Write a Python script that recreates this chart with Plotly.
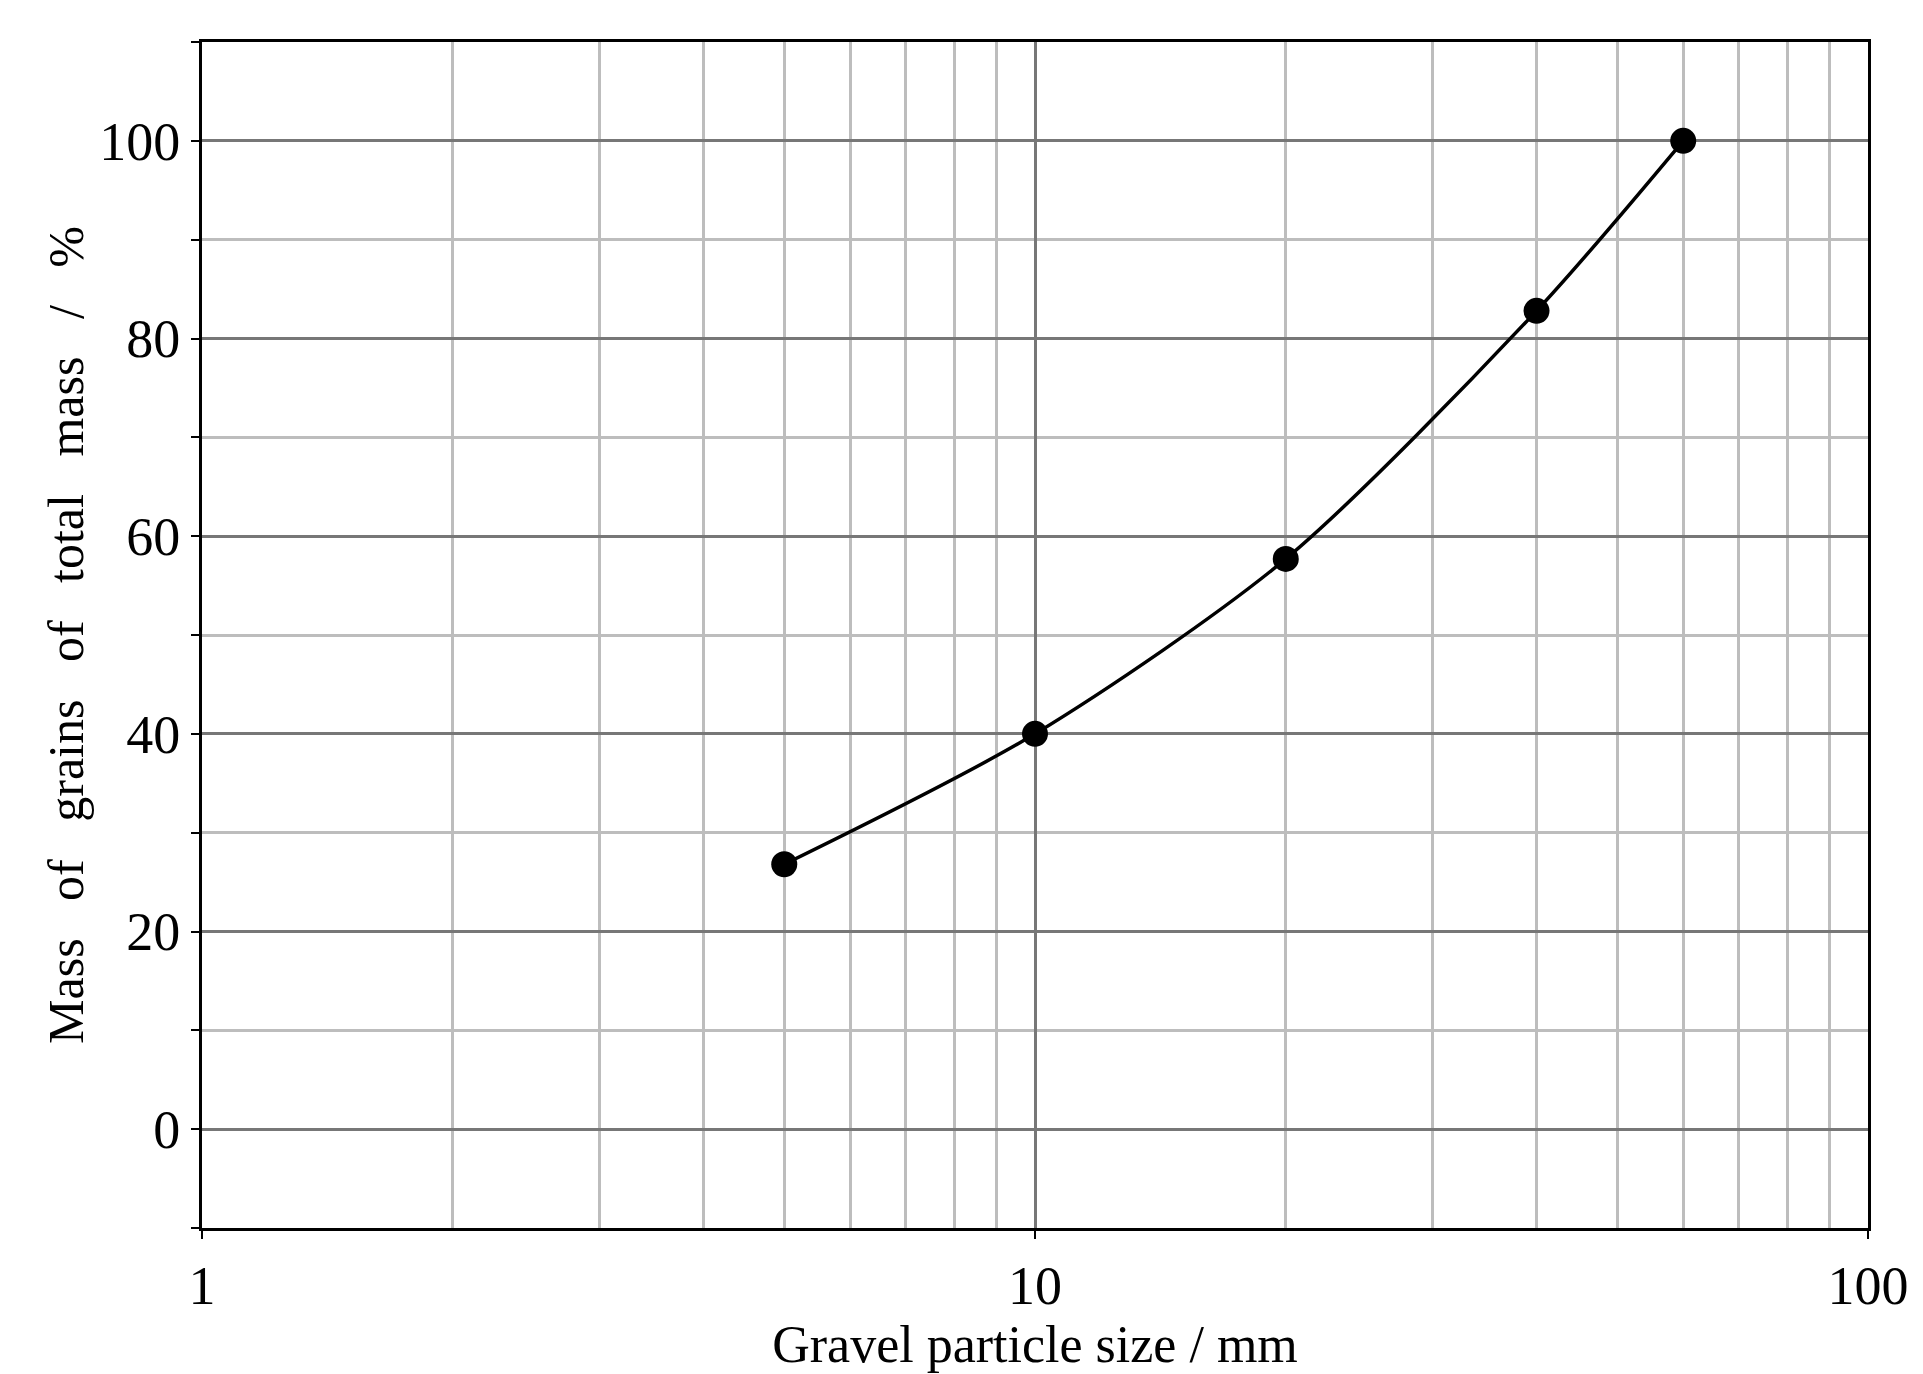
import plotly.graph_objects as go

size_mm = [5, 10, 20, 40, 60]
mass_pct = [26.8, 40, 57.7, 82.8, 100]
y_ticks = [0, 20, 40, 60, 80, 100]
x_ticks = [1, 10, 100]

fig = go.Figure()
fig.add_trace(go.Scatter(
    x=size_mm, y=mass_pct, mode="lines+markers",
    line=dict(color="black", width=3.5, shape="spline", smoothing=0.8),
    marker=dict(color="black", size=26),
    showlegend=False,
))

font = "Liberation Serif, Times New Roman, serif"
fig.update_layout(
    width=1923, height=1374,
    plot_bgcolor="white", paper_bgcolor="white",
    margin=dict(l=194, r=63, t=34, b=154),
    font=dict(family=font, size=54, color="black"),
)
fig.update_xaxes(
    type="log", range=[0, 2],
    tickvals=x_ticks, ticktext=[str(v) for v in x_ticks],
    ticks="outside", ticklen=8, tickwidth=2, tickcolor="black",
    showgrid=True, gridcolor="#777777", gridwidth=3,
    minor=dict(showgrid=True, gridcolor="#bdbdbd", gridwidth=3,
               tickvals=[2, 3, 4, 5, 6, 7, 8, 9, 20, 30, 40, 50, 60, 70, 80, 90]),
    showline=True, linecolor="black", linewidth=3, mirror=True,
    title=dict(text="Gravel particle size / mm", font=dict(size=52), standoff=2),
)
fig.update_yaxes(
    range=[-10, 110], tickvals=y_ticks,
    ticks="outside", ticklen=8, tickwidth=2, tickcolor="black",
    showgrid=True, gridcolor="#777777", gridwidth=3,
    minor=dict(showgrid=True, gridcolor="#bdbdbd", gridwidth=3,
               dtick=10, ticks="outside", ticklen=8, tickcolor="black"),
    zeroline=False,
    showline=True, linecolor="black", linewidth=3, mirror=True,
    title=dict(text="Mass   of   grains   of   total   mass   /   %",
               font=dict(size=50), standoff=0),
)
fig.write_html("out.html")
